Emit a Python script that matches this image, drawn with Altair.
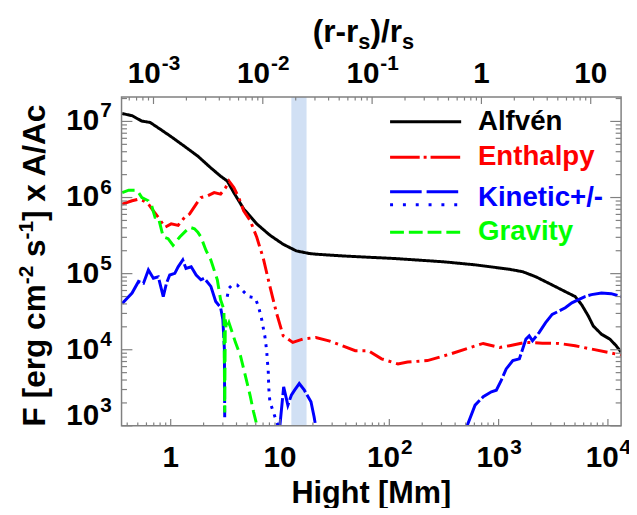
import altair as alt
import pandas as pd

RS = 696.0  # solar radius in Mm, links the two x axes

# ---------------- data ----------------
alfven_h = [0.36, 0.443, 0.545, 0.648, 0.824, 1.01, 1.34, 1.77, 2.33, 2.86, 3.29, 3.78, 4.65, 6.13, 8.08,
            10.7, 14.1, 18.5, 21.3, 39.7, 112, 316, 625, 1259, 1660, 2188, 3090, 4074, 5012, 5754, 6622,
            7345, 8730, 10400, 11900, 13200]
alfven_f = [1.27e7, 1.19e7, 1.01e7, 9.7e6, 7.7e6, 6.3e6, 4.7e6, 3.5e6, 2.45e6, 1.91e6, 1.65e6, 1.16e6,
            7.1e5, 4.5e5, 3.2e5, 2.43e5, 1.99e5, 1.84e5, 1.80e5, 1.70e5, 1.58e5, 1.43e5, 1.30e5, 1.14e5,
            1.06e5, 9.1e4, 7.1e4, 5.8e4, 5.0e4, 3.9e4, 2.77e4, 2.05e4, 1.6e4, 1.38e4, 1.13e4, 9.3e3]

enthalpy_h = [0.36, 0.443, 0.508, 0.564, 0.625, 0.694, 0.77, 0.885, 1.01, 1.17, 1.34, 1.49, 1.71, 1.89,
              2.17, 2.50, 2.86, 3.18, 3.41, 3.78, 4.19, 4.65, 5.33, 6.13, 7.04, 8.08, 9.28, 10.7, 13.1,
              16.2, 21.3, 28.0, 37, 48.8, 64.3, 84.9, 120, 147, 223, 363, 550, 723, 1023, 1259, 1778,
              2512, 3548, 5012, 7080, 10000, 13200]
enthalpy_f = [8.2e5, 9.06e5, 9.5e5, 9.06e5, 8.2e5, 6.7e5, 5.5e5, 4.07e5, 4.5e5, 4.3e5, 5.5e5, 6.1e5,
              8.2e5, 1.0e6, 1.05e6, 1.16e6, 1.11e6, 1.35e6, 1.65e6, 1.35e6, 1.0e6, 6.7e5, 5.0e5, 3.0e5,
              1.58e5, 6.8e4, 3.06e4, 1.52e4, 1.25e4, 1.38e4, 1.45e4, 1.31e4, 1.13e4, 9.7e3, 9.7e3, 7.6e3,
              6.5e3, 6.9e3, 7.2e3, 8.8e3, 1.07e4, 1.21e4, 1.07e4, 1.13e4, 1.25e4, 1.22e4, 1.21e4, 1.13e4,
              1.02e4, 9.25e3, 8.5e3]

gravity_h = [0.36, 0.413, 0.491, 0.545, 0.625, 0.67, 0.719, 0.77, 0.855, 0.947, 1.05, 1.21, 1.34, 1.49,
             1.65, 1.77, 1.89, 2.10, 2.33, 2.67, 2.86, 3.07, 3.12, 3.16, 3.22, 3.41, 3.65, 3.91, 4.34,
             4.81, 5.33, 5.72, 6.13]
gravity_f = [1.16e6, 1.25e6, 1.25e6, 1.0e6, 9.06e5, 7.8e5, 5.5e5, 5.5e5, 3.03e5, 2.88e5, 2.36e5, 3.03e5,
             3.51e5, 4.07e5, 3.89e5, 3.51e5, 3.03e5, 2.03e5, 1.51e5, 8.3e4, 4.55e4, 3.38e4, 1.5e3, 2.5e4,
             1.86e4, 2.27e4, 1.7e4, 1.25e4, 8.4e3, 4.6e3, 2.5e3, 1.54e3, 1.03e3]

kin_plus_a_h = [0.36, 0.443, 0.508, 0.564, 0.625, 0.694, 0.77, 0.855, 0.915, 0.98, 1.09, 1.17, 1.29, 1.38,
                1.54, 1.71, 1.89, 2.03, 2.33, 2.58, 2.86, 3.0, 3.1, 3.12]
kin_plus_a_f = [4.04e4, 5.56e4, 7.9e4, 7.5e4, 1.12e5, 8.7e4, 9.1e4, 5.0e4, 7.5e4, 9.6e4, 1.01e5, 1.23e5,
                1.51e5, 1.17e5, 1.23e5, 9.6e4, 8.3e4, 8.7e4, 6.8e4, 4.3e4, 3.6e4, 2.5e4, 1.0e4, 1.3e3]
kin_plus_b_h = [9.94, 10.8, 11.8, 12.7, 13.6, 15.0, 16.7, 19.2, 20.5, 21.3]
kin_plus_b_f = [9.5e2, 3.25e3, 1.87e3, 2.53e3, 2.94e3, 3.59e3, 2.94e3, 2.07e3, 1.32e3, 9.5e2]
kin_plus_c_h = [512, 609, 723, 859, 953, 1057, 1173, 1349, 1549, 1778, 1905, 2042, 2345, 2692, 3090, 3548,
                4074, 4677, 5383, 6166, 7080, 8730, 10700, 13200]
kin_plus_c_f = [9.8e2, 1.87e3, 2.41e3, 2.8e3, 2.94e3, 3.96e3, 5.6e3, 7.2e3, 7.6e3, 1.38e4, 1.52e4, 1.31e4,
                1.68e4, 2.27e4, 2.91e4, 3.21e4, 3.56e4, 4.13e4, 4.55e4, 5.0e4, 5.3e4, 5.56e4, 5.45e4, 5.0e4]

kin_minus_h = [3.29, 3.41, 3.65, 4.05, 4.49, 5.16, 5.92, 6.35, 6.8, 7.28, 7.54, 7.81, 7.9, 8.08, 8.67,
               9.28, 9.68]
kin_minus_f = [4.98e4, 6.45e4, 7.1e4, 7.1e4, 6.1e4, 5.0e4, 4.8e4, 3.73e4, 2.5e4, 1.48e4, 9.9e3, 5.1e3,
               3.09e3, 2.07e3, 1.54e3, 1.14e3, 9.8e2]

band_h = [12.7, 17.5]

legend_labels = ["Alfvén", "Enthalpy", "Kinetic+/-", "Gravity"]
legend_colors = ["#000000", "#ff0000", "#0000ff", "#00ff00"]

bottom_plain_vals = [1, 10]
bottom_plain_text = ["1", "10"]
bottom_exp_vals = [100, 1000, 10000]
bottom_exp_text = ["2", "3", "4"]

top_plain_q = [1, 10]
top_plain_text = ["1", "10"]
top_exp_q = [1e-3, 1e-2, 1e-1]
top_exp_text = ["-3", "-2", "-1"]

left_exp_vals = [1e4, 1e5, 1e6, 1e7]
left_exp_text = ["4", "5", "6", "7"]
left_low_vals = [1e3]
left_low_text = ["3"]

# ---------------- layout / style ----------------
W, H = 506, 333
FONT = "Liberation Sans"
GRAY = "#808080"
XS = alt.Scale(type="log", domain=[0.355, 13200], nice=False)
YS = alt.Scale(type="log", domain=[1000, 2.09e7], nice=False)

AW = {' ': .278, '(': .333, ')': .333, '-': .333, '/': .278, 'A': .722, 'F': .611, '[': .333,
      ']': .333, 'c': .556, 'e': .556, 'g': .611, 'm': .889, 'r': .389, 's': .556, 'x': .556}


def tw(s, size):
    return sum(AW.get(ch, .556) for ch in s) * size


one = pd.DataFrame({"a": [0]})


def xq(field):
    return alt.X(f"{field}:Q", scale=XS, axis=None)


def yq(field):
    return alt.Y(f"{field}:Q", scale=YS, axis=None)


def series_df(h, f, seg="a"):
    return pd.DataFrame({"h": h, "f": f, "i": list(range(len(h))), "seg": seg})


layers = []

# shaded band
band_df = pd.DataFrame({"h0": [band_h[0]], "h1": [band_h[1]]})
layers.append(alt.Chart(band_df).mark_rect(color="#c9dbf2", opacity=0.85).encode(
    x=xq("h0"), x2="h1", y=alt.value(0), y2=alt.value(H)))


def line(df, color, dash, width=3):
    return alt.Chart(df).mark_line(color=color, strokeWidth=width, strokeDash=dash, clip=True).encode(
        x=xq("h"), y=yq("f"), detail="seg:N", order="i:Q")


layers.append(line(series_df(alfven_h, alfven_f), "#000000", [1, 0]))
layers.append(line(series_df(enthalpy_h, enthalpy_f), "#ff0000", [16, 5, 3, 5]))
kin_plus = pd.concat([series_df(kin_plus_a_h, kin_plus_a_f, "a"),
                      series_df(kin_plus_b_h, kin_plus_b_f, "b"),
                      series_df(kin_plus_c_h, kin_plus_c_f, "c")])
layers.append(line(kin_plus, "#0000ff", [30, 3]))
layers.append(line(series_df(kin_minus_h, kin_minus_f), "#0000ff", [3, 6]))
layers.append(line(series_df(gravity_h, gravity_f), "#00ff00", [13, 6]))

# frame
layers.append(alt.Chart(one).mark_rect(fillOpacity=0, stroke=GRAY, strokeWidth=1.5).encode(
    x=alt.value(0), x2=alt.value(W), y=alt.value(0), y2=alt.value(H)))


# ticks (inward)
def in_range(vals, lo, hi):
    return [v for v in vals if lo <= v <= hi]


bx_major = [1, 10, 100, 1000, 10000]
bx_minor = in_range([k * 10 ** n for n in range(-1, 5) for k in range(2, 10)], 0.355, 13200)
tq_major = [1e-3, 1e-2, 1e-1, 1, 10]
tq_minor = in_range([k * 10.0 ** n for n in range(-4, 2) for k in range(2, 10)], 0.355 / RS, 13200 / RS)
y_major = [1e3, 1e4, 1e5, 1e6, 1e7]
y_minor = in_range([k * 10 ** n for n in range(3, 8) for k in range(2, 10)], 1000, 2.09e7)


def vdf(vals):
    return pd.DataFrame({"v": vals})


for vals, ln in [(bx_major, 7), (bx_minor, 3.5)]:
    layers.append(alt.Chart(vdf(vals)).mark_rule(color=GRAY, strokeWidth=1.2).encode(
        x=xq("v"), y=alt.value(H), y2=alt.value(H - ln)))
for vals, ln in [(tq_major, 7), (tq_minor, 3.5)]:
    layers.append(alt.Chart(vdf([q * RS for q in vals])).mark_rule(color=GRAY, strokeWidth=1.2).encode(
        x=xq("v"), y=alt.value(0), y2=alt.value(ln)))
for vals, ln in [(y_major, 11), (y_minor, 5.5)]:
    layers.append(alt.Chart(vdf(vals)).mark_rule(color=GRAY, strokeWidth=1.2).encode(
        y=yq("v"), x=alt.value(0), x2=alt.value(ln)))
    layers.append(alt.Chart(vdf(vals)).mark_rule(color=GRAY, strokeWidth=1.2).encode(
        y=yq("v"), x=alt.value(W), x2=alt.value(W - ln)))

# tick labels
TFS, EFS, ERAISE = 30, 21, 10
TXT = dict(font=FONT, fontWeight="bold", color="black", baseline="middle")
wb = tw("10", TFS)


def lab_df(vals, texts):
    return pd.DataFrame({"v": vals, "t": texts})


# bottom axis
BY = H + 33
layers.append(alt.Chart(lab_df(bottom_plain_vals, bottom_plain_text)).mark_text(
    align="center", fontSize=TFS, **TXT).encode(x=xq("v"), y=alt.value(BY), text="t:N"))
we = tw("2", EFS)
x0 = -(wb + we) / 2
layers.append(alt.Chart(lab_df(bottom_exp_vals, bottom_exp_text)).mark_text(
    align="left", fontSize=TFS, dx=x0, **TXT).encode(x=xq("v"), y=alt.value(BY), text=alt.value("10")))
layers.append(alt.Chart(lab_df(bottom_exp_vals, bottom_exp_text)).mark_text(
    align="left", fontSize=EFS, dx=x0 + wb + 1, dy=-ERAISE, **TXT).encode(
    x=xq("v"), y=alt.value(BY), text="t:N"))

# top axis
TY = -23
layers.append(alt.Chart(lab_df([q * RS for q in top_plain_q], top_plain_text)).mark_text(
    align="center", fontSize=TFS, **TXT).encode(x=xq("v"), y=alt.value(TY), text="t:N"))
we = tw("-3", EFS)
x0 = -(wb + we) / 2
layers.append(alt.Chart(lab_df([q * RS for q in top_exp_q], top_exp_text)).mark_text(
    align="left", fontSize=TFS, dx=x0, **TXT).encode(x=xq("v"), y=alt.value(TY), text=alt.value("10")))
layers.append(alt.Chart(lab_df([q * RS for q in top_exp_q], top_exp_text)).mark_text(
    align="left", fontSize=EFS, dx=x0 + wb + 1, dy=-ERAISE, **TXT).encode(
    x=xq("v"), y=alt.value(TY), text="t:N"))

# left axis
we = tw("7", EFS)
for vals, texts, shift in [(left_exp_vals, left_exp_text, 0), (left_low_vals, left_low_text, -10)]:
    layers.append(alt.Chart(lab_df(vals, texts)).mark_text(
        align="right", fontSize=TFS, dy=shift, **TXT).encode(
        y=yq("v"), x=alt.value(-10 - we - 1), text=alt.value("10")))
    layers.append(alt.Chart(lab_df(vals, texts)).mark_text(
        align="right", fontSize=EFS, dy=shift - ERAISE, **TXT).encode(
        y=yq("v"), x=alt.value(-10), text="t:N"))

# titles
layers.append(alt.Chart(one).mark_text(text="Hight [Mm]", fontSize=31, align="center", **TXT).encode(
    x=alt.value(W / 2), y=alt.value(H + 69)))

TT = dict(font=FONT, fontWeight="bold", color="black", baseline="alphabetic")


def rich_h(pieces, xc, yb):
    widths = [tw(t, s) for t, s, r in pieces]
    x = xc - sum(widths) / 2
    out = []
    for (t, s, r), w in zip(pieces, widths):
        lead = tw(t[:len(t) - len(t.lstrip())], s)
        out.append(alt.Chart(one).mark_text(text=t.strip(), fontSize=s, align="left", **TT).encode(
            x=alt.value(x + lead), y=alt.value(yb - r)))
        x += w
    return out


def rich_v(pieces, xb, yc):
    widths = [tw(t, s) for t, s, r in pieces]
    y = yc + sum(widths) / 2
    out = []
    for (t, s, r), w in zip(pieces, widths):
        lead = tw(t[:len(t) - len(t.lstrip())], s)
        out.append(alt.Chart(one).mark_text(text=t.strip(), fontSize=s, align="left", angle=270, **TT).encode(
            x=alt.value(xb - r), y=alt.value(y - lead)))
        y -= w
    return out


layers += rich_h([("(r-r", 32, 0), ("s", 22, -7), (")/r", 32, 0), ("s", 22, -7)], W / 2 - 8, -56)
layers += rich_v([("F [erg cm", 32, 0), ("-2", 21, 12), (" s", 32, 0), ("-1", 21, 12),
                  ("] x A/Ac", 32, 0)], -78, 170)

# legend
LX0, LX1, LTX = 272, 344, 361
leg_rows = [(0, 25, [25], [[1, 0]]),
            (1, 61, [61], [[30, 4, 3, 4]]),
            (2, 102, [96, 109], [[32, 5], [3, 10]]),
            (3, 137, [137], [[14, 5]])]
for idx, ty, lys, dashes in leg_rows:
    col = legend_colors[idx]
    for ly, dash in zip(lys, dashes):
        layers.append(alt.Chart(one).mark_rule(color=col, strokeWidth=3, strokeDash=dash).encode(
            x=alt.value(LX0), x2=alt.value(LX1), y=alt.value(ly)))
    layers.append(alt.Chart(pd.DataFrame({"t": [legend_labels[idx]]})).mark_text(
        align="left", fontSize=28, font=FONT, fontWeight="bold", color=col, baseline="middle").encode(
        x=alt.value(LTX), y=alt.value(ty), text="t:N"))

chart = alt.layer(*layers).properties(
    width=W, height=H,
    padding={"left": 115, "top": 87, "right": 8, "bottom": 80},
    autosize=alt.AutoSizeParams(type="none"),
).configure_view(stroke=None)

chart.save("out.html", embed_options={"renderer": "svg", "actions": False})
